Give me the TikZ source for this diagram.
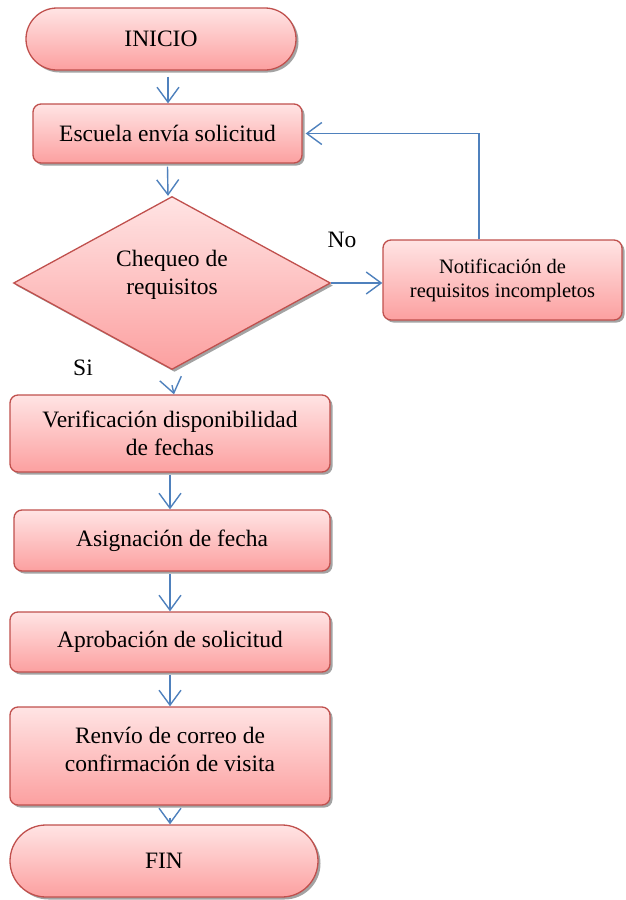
\documentclass[tikz,border=0pt]{standalone}
\usepackage{fontspec}
\setmainfont{Liberation Serif}
\usetikzlibrary{arrows.meta,shapes.misc,shapes.geometric,shadows}
\definecolor{bord}{RGB}{192,80,77}
\definecolor{topc}{RGB}{255,228,228}
\definecolor{botc}{RGB}{252,160,160}
\definecolor{arrc}{RGB}{79,129,189}
\tikzset{
  base/.style={draw=bord, line width=1.3pt, top color=topc, bottom color=botc,
    drop shadow={shadow xshift=2.5pt, shadow yshift=-2.5pt, fill=black!45, opacity=0.8},
    font=\rmfamily\fontsize{23.5}{28}\selectfont, align=center, inner sep=0pt},
  term/.style={base, rounded rectangle},
  proc/.style={base, rectangle, rounded corners=8pt},
  dec/.style={base, diamond},
  arr/.style={draw=arrc, line width=1.4pt, -{Straight Barb[length=15pt,width=22pt,line width=1.4pt]}},
  lbl/.style={font=\rmfamily\fontsize{23.5}{27}\selectfont, inner sep=0pt}
}
\begin{document}
\begin{tikzpicture}[x=1pt,y=-1pt]
\useasboundingbox (0,0) rectangle (626,900);
\node[term, minimum width=270pt, minimum height=62pt] (ini) at (161,39) {INICIO};
\node[proc, minimum width=269pt, minimum height=59pt] (esc) at (167.5,133.5) {Escuela envía solicitud};
\node[dec, minimum width=317pt, minimum height=173pt] (chk) at (172,283) {\raisebox{2pt}[0pt][0pt]{\begin{tabular}{@{}c@{}}Chequeo de\\requisitos\end{tabular}}};
\node[proc, minimum width=239pt, minimum height=80pt, font=\rmfamily\fontsize{20.5}{24}\selectfont] (not) at (502.5,280) {Notificación de\\requisitos incompletos};
\node[proc, minimum width=320pt, minimum height=77pt] (ver) at (170,433.5) {Verificación disponibilidad\\de fechas};
\node[proc, minimum width=316pt, minimum height=61pt] (asi) at (172,540.5) {Asignación de fecha};
\node[proc, minimum width=320pt, minimum height=60pt] (apr) at (170,642) {Aprobación de solicitud};
\node[proc, minimum width=320pt, minimum height=98pt] (ren) at (170,756) {\raisebox{-2pt}[0pt][0pt]{\begin{tabular}{@{}c@{}}Renvío de correo de\\confirmación de visita\end{tabular}}};
\node[term, minimum width=308pt, minimum height=72pt] (fin) at (164,861) {FIN};
\node[lbl] (no) at (342,240) {No};
\node[lbl] (si) at (83,368) {Si};
\draw[arr] ([xshift=7pt,yshift=-6pt]ini.south) -- ([xshift=0.5pt]esc.north);
\draw[arr] ([yshift=-3pt]esc.south) -- ([xshift=-4pt]chk.north);
\draw[arr] (chk.east) -- (chk.east -| not.west);
\draw[arr] ([xshift=-23.5pt]not.north) |- ([xshift=3pt]esc.east);
\draw[arr] ([yshift=-15pt]chk.south) -- ([xshift=4pt]ver.north);
\draw[arr] ([yshift=-2pt]ver.south) -- ([xshift=-2pt]asi.north);
\draw[arr] ([xshift=-2pt,yshift=-2pt]asi.south) -- (apr.north);
\draw[arr] ([yshift=-2pt]apr.south) -- (ren.north);
\draw[arr] ([yshift=-12pt]ren.south) -- ([xshift=6pt]fin.north);
\end{tikzpicture}
\end{document}
